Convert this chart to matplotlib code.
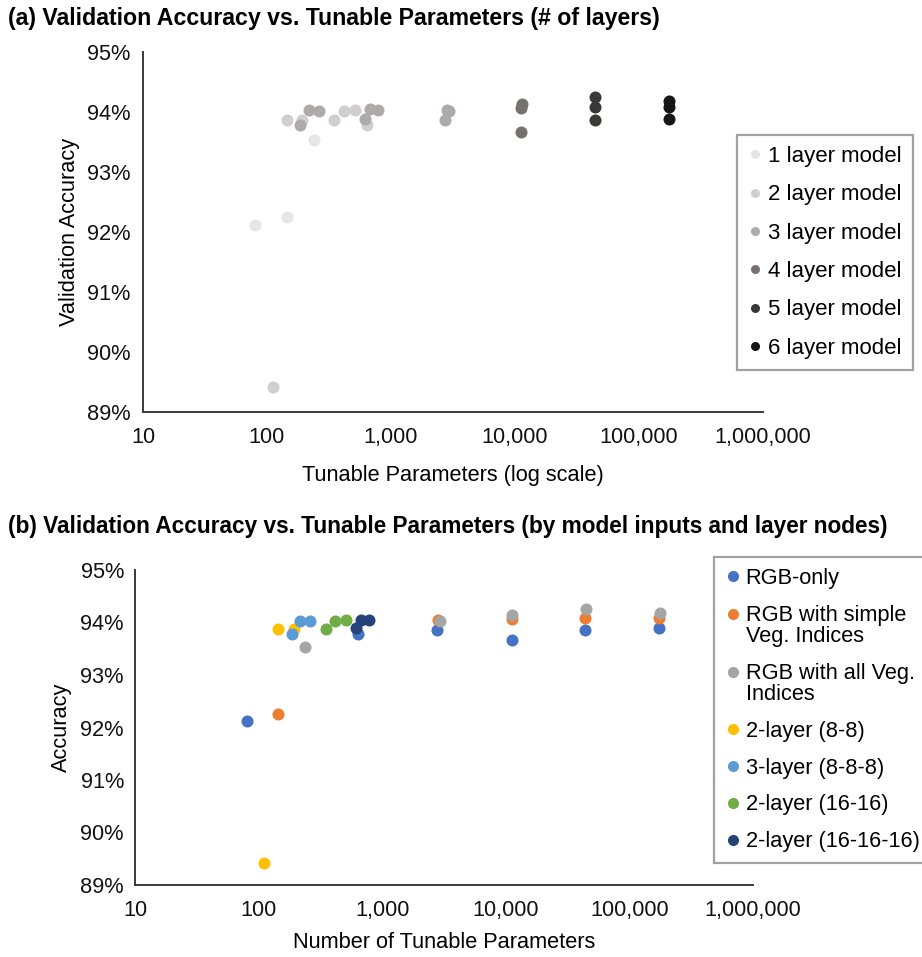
import matplotlib
matplotlib.use("Agg")
import matplotlib.pyplot as plt
from matplotlib.ticker import FuncFormatter, PercentFormatter, FixedLocator, NullLocator
from matplotlib.lines import Line2D
from matplotlib.legend_handler import HandlerLine2D

plt.rcParams['font.family'] = ['Liberation Sans', 'DejaVu Sans']

# ---- data ----
params = [80, 144, 238,
          111, 144, 192,
          185, 217, 262,
          350, 415, 512, 640,
          617, 676, 783,
          2750, 2820, 2950,
          11200, 11200, 11300,
          44000, 44000, 44500,
          174000, 174000, 176000]
accuracy = [92.12, 92.25, 93.53,
            89.42, 93.87, 93.87,
            93.79, 94.03, 94.02,
            93.87, 94.02, 94.04, 93.79,
            93.89, 94.05, 94.04,
            93.86, 94.04, 94.02,
            93.67, 94.06, 94.14,
            93.86, 94.09, 94.25,
            93.89, 94.08, 94.19]
n_layers = [1, 1, 1,
            2, 2, 2,
            3, 3, 3,
            2, 2, 2, 2,
            3, 3, 3,
            3, 3, 3,
            4, 4, 4,
            5, 5, 5,
            6, 6, 6]
group_b = ["RGB-only", "RGB with simple\nVeg. Indices", "RGB with all Veg.\nIndices",
           "2-layer (8-8)", "2-layer (8-8)", "2-layer (8-8)",
           "3-layer (8-8-8)", "3-layer (8-8-8)", "3-layer (8-8-8)",
           "2-layer (16-16)", "2-layer (16-16)", "2-layer (16-16)", "RGB-only",
           "2-layer (16-16-16)", "2-layer (16-16-16)", "2-layer (16-16-16)",
           "RGB-only", "RGB with simple\nVeg. Indices", "RGB with all Veg.\nIndices",
           "RGB-only", "RGB with simple\nVeg. Indices", "RGB with all Veg.\nIndices",
           "RGB-only", "RGB with simple\nVeg. Indices", "RGB with all Veg.\nIndices",
           "RGB-only", "RGB with simple\nVeg. Indices", "RGB with all Veg.\nIndices"]

layer_labels = ["1 layer model", "2 layer model", "3 layer model",
                "4 layer model", "5 layer model", "6 layer model"]
layer_colors = ["#e7e6e6", "#d0cece", "#aeaaaa", "#767171", "#3b3838", "#161616"]

series_b = ["RGB-only", "RGB with simple\nVeg. Indices", "RGB with all Veg.\nIndices",
            "2-layer (8-8)", "3-layer (8-8-8)", "2-layer (16-16)", "2-layer (16-16-16)"]
colors_b = ["#4472c4", "#ed7d31", "#a5a5a5", "#ffc000", "#5b9bd5", "#70ad47", "#264478"]

x_ticks = [10, 100, 1000, 10000, 100000, 1000000]
y_ticks = [89, 90, 91, 92, 93, 94, 95]

W, H = 922, 957
fig = plt.figure(figsize=(W / 100, H / 100), dpi=100)

def fx(px):
    return px / W

def fy(py):
    return 1 - py / H

ax_a = fig.add_axes([fx(143), fy(412), fx(763) - fx(143), fy(52) - fy(412)])
ax_b = fig.add_axes([fx(135), fy(885), fx(753) - fx(135), fy(570) - fy(885)])

MS = 75
for i, lab in enumerate(layer_labels):
    xs = [p for p, l in zip(params, n_layers) if l == i + 1]
    ys = [a for a, l in zip(accuracy, n_layers) if l == i + 1]
    ax_a.scatter(xs, ys, s=MS, color=layer_colors[i], linewidths=0, label=lab, zorder=3)

for lab, col in zip(series_b, colors_b):
    xs = [p for p, g in zip(params, group_b) if g == lab]
    ys = [a for a, g in zip(accuracy, group_b) if g == lab]
    ax_b.scatter(xs, ys, s=MS, color=col, linewidths=0, label=lab, zorder=3)

TICK_FS = 15.7
for ax, ypad in ((ax_a, 9), (ax_b, 8)):
    ax.set_xscale('log')
    ax.set_xlim(10, 1e6)
    ax.set_ylim(89, 95)
    ax.xaxis.set_major_locator(FixedLocator(x_ticks))
    ax.xaxis.set_minor_locator(NullLocator())
    ax.yaxis.set_major_locator(FixedLocator(y_ticks))
    ax.xaxis.set_major_formatter(FuncFormatter(lambda v, p: f"{v:,.0f}"))
    ax.yaxis.set_major_formatter(PercentFormatter(100, decimals=0))
    for s in ('top', 'right'):
        ax.spines[s].set_visible(False)
    for s in ('left', 'bottom'):
        ax.spines[s].set_color('#3a3a3a')
        ax.spines[s].set_linewidth(1.4)
    ax.tick_params(axis='both', length=0, labelsize=TICK_FS, colors='#111111')
    ax.tick_params(axis='y', pad=ypad)
    ax.tick_params(axis='x', pad=11)
    ax.patch.set_alpha(0)

ax_a.set_xlabel("Tunable Parameters (log scale)", fontsize=15.7, labelpad=12)
ax_a.set_ylabel("Validation Accuracy", fontsize=15.7, labelpad=5)
ax_b.set_xlabel("Number of Tunable Parameters", fontsize=15.7, labelpad=8)
ax_b.set_ylabel("Accuracy", fontsize=15.7, labelpad=6)

fig.text(fx(8), fy(18), "(a) Validation Accuracy vs. Tunable Parameters (# of layers)",
         fontsize=16.7, fontweight='bold', ha='left', va='center')
fig.text(fx(8), fy(527), "(b) Validation Accuracy vs. Tunable Parameters (by model inputs and layer nodes)",
         fontsize=16.3, fontweight='bold', ha='left', va='center')


class TopAlignedHandler(HandlerLine2D):
    """Place the legend marker next to the first line of a two-line label."""
    def __init__(self, raise_pts=0.0, **kw):
        super().__init__(**kw)
        self.raise_pts = raise_pts

    def create_artists(self, legend, orig_handle, xdescent, ydescent, width, height,
                       fontsize, trans):
        return super().create_artists(legend, orig_handle, xdescent,
                                      ydescent - 2 * self.raise_pts, width, height,
                                      fontsize, trans)


# legends
handles_a = [Line2D([], [], ls='', marker='o', ms=6.5, mew=0, color=c) for c in layer_colors]
leg_a = fig.legend(handles_a, layer_labels, loc='upper left',
                   bbox_to_anchor=(fx(737), fy(135)), bbox_transform=fig.transFigure,
                   fontsize=16, frameon=True, fancybox=False, borderaxespad=0,
                   handlelength=0.6, handletextpad=0.3, borderpad=0.5, labelspacing=0.78)
leg_a.get_frame().set_edgecolor('#8a8a8a')
leg_a.get_frame().set_linewidth(1.6)

handles_b = [Line2D([], [], ls='', marker='o', ms=8, mew=0, color=c) for c in colors_b]
hmap = {h: TopAlignedHandler(raise_pts=8.5) for h, lab in zip(handles_b, series_b) if "\n" in lab}
leg_b = fig.legend(handles_b, series_b, loc='upper left',
                   bbox_to_anchor=(fx(714), fy(557)), bbox_transform=fig.transFigure,
                   fontsize=15.7, frameon=True, fancybox=False, borderaxespad=0,
                   handlelength=0.7, handletextpad=0.25, borderpad=0.5, labelspacing=0.73,
                   handler_map=hmap)
leg_b.get_frame().set_edgecolor('#8a8a8a')
leg_b.get_frame().set_linewidth(1.6)
for t in leg_b.get_texts():
    t.set_linespacing(1.0)

fig.savefig("out.png", dpi=100)
